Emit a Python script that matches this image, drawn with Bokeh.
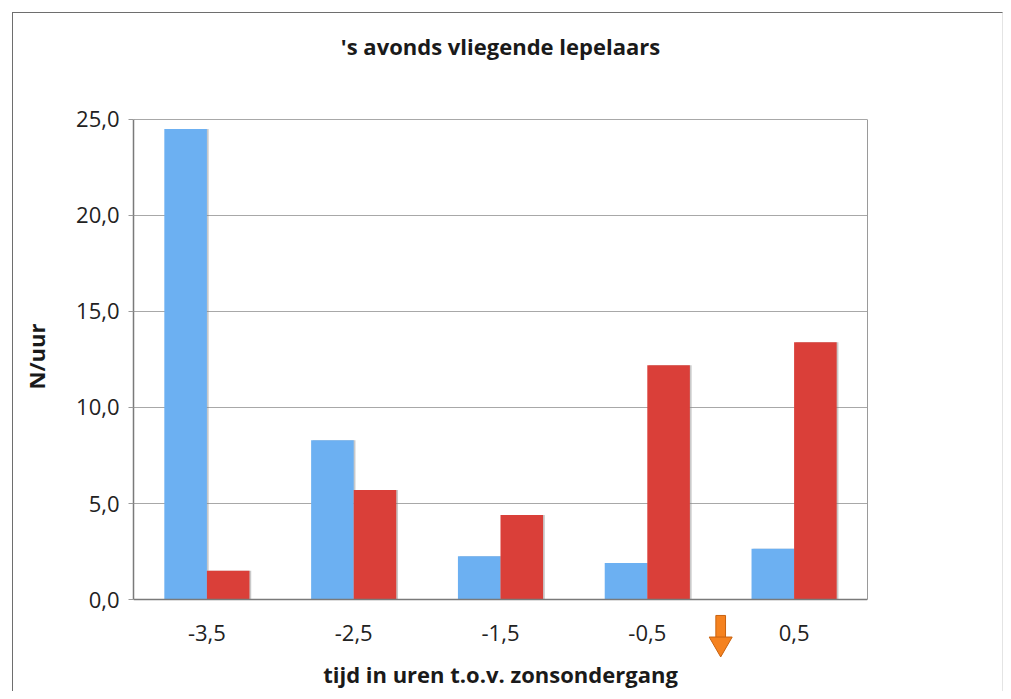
from bokeh.plotting import figure
from bokeh.models import (FactorRange, Range1d, CustomJSTickFormatter, FixedTicker,
                          LinearAxis, Span, ColumnDataSource)
from bokeh.transform import dodge
from bokeh.core.properties import value
from bokeh.embed import file_html
from bokeh.resources import INLINE

categories = ["-3,5", "-2,5", "-1,5", "-0,5", "0,5"]
blue_values = [24.5, 8.3, 2.25, 1.9, 2.65]
red_values = [1.5, 5.7, 4.4, 12.2, 13.4]
y_ticks = [0, 5, 10, 15, 20, 25]
title_text = "'s avonds vliegende lepelaars"
x_title = "tijd in uren t.o.v. zonsondergang"
y_title = "N/uur"

BLUE = "#6cb0f2"
RED = "#da3f39"
ORANGE = "#f5821f"
AXIS = "#7a7a7a"
FONT = "Open Sans"

src = ColumnDataSource(dict(cat=categories, blue=blue_values, red=red_values))

# the data frame spans 0..25; the range is extended so that title, x labels
# and the sunset arrow (all drawn as glyphs) fit inside the drawing area
p = figure(x_range=FactorRange(*categories, range_padding=0),
           y_range=Range1d(-4.79, 30.10),
           width=991, height=679, output_backend="svg", toolbar_location=None,
           min_border_left=120, min_border_right=137, min_border_top=8,
           min_border_bottom=1)
p.title.visible = False
p.margin = (12, 0, 0, 12)
p.styles = {"border-top": "1px solid #6e6e6e", "border-left": "1px solid #6e6e6e",
            "border-right": "1px solid #e4e4e4"}
p.background_fill_color = "white"
p.border_fill_color = "white"
p.outline_line_color = None

w = 0.29
# subtle shadows
p.vbar(x=dodge("cat", -0.145 + 0.012, range=p.x_range), top="blue", width=w, bottom=0,
       source=src, fill_color="#888888", fill_alpha=0.45, line_color=None)
p.vbar(x=dodge("cat", 0.145 + 0.012, range=p.x_range), top="red", width=w, bottom=0,
       source=src, fill_color="#888888", fill_alpha=0.45, line_color=None)
p.vbar(x=dodge("cat", -0.145, range=p.x_range), top="blue", width=w, bottom=0,
       source=src, fill_color=BLUE, line_color=None)
p.vbar(x=dodge("cat", 0.145, range=p.x_range), top="red", width=w, bottom=0,
       source=src, fill_color=RED, line_color=None)

# grid / frame
p.xgrid.grid_line_color = None
p.ygrid.grid_line_color = "#a8a8a8"
p.ygrid.grid_line_width = 1
p.add_layout(Span(location=0, dimension="width", line_color=AXIS, line_width=1.5))

p.xaxis.visible = False

yax = p.yaxis[0]
yax.ticker = FixedTicker(ticks=y_ticks)
yax.bounds = (y_ticks[0], y_ticks[-1])
yax.formatter = CustomJSTickFormatter(code="return tick.toFixed(1).replace('.', ',');")
yax.axis_line_color = AXIS
yax.axis_line_width = 1.5
yax.major_tick_line_color = "#9a9a9a"
yax.major_tick_out = 5
yax.major_tick_in = 0
yax.minor_tick_line_color = None
yax.major_label_standoff = 9
yax.major_label_text_font = FONT
yax.major_label_text_font_size = "22px"
yax.major_label_text_color = "#222222"
yax.axis_label = y_title
yax.axis_label_standoff = 22
yax.axis_label_text_font = FONT
yax.axis_label_text_font_size = "22px"
yax.axis_label_text_font_style = "bold"
yax.axis_label_text_color = "#1a1a1a"

right = LinearAxis(ticker=FixedTicker(ticks=[]), bounds=(y_ticks[0], y_ticks[-1]),
                   axis_line_color="#9a9a9a", major_tick_line_color=None,
                   minor_tick_line_color=None, major_label_text_font_size="0px")
p.add_layout(right, "right")

# category labels under the axis
p.text(x=categories, y=[-1.75] * len(categories), text=categories,
       text_align="center", text_baseline="middle", text_font=value(FONT),
       text_font_size="22px", text_color="#222222")

# axis title and chart title
mid = len(categories) / 2
p.text(x=[mid], y=[-3.87], text=[x_title], text_align="center", text_baseline="middle",
       text_font=value(FONT), text_font_size="22px", text_font_style="bold",
       text_color="#1a1a1a")
p.text(x=[mid], y=[28.8], text=[title_text], text_align="center", text_baseline="middle",
       text_font=value(FONT), text_font_size="22px", text_font_style="bold",
       text_color="#1a1a1a")

# orange sunset arrow between the -0,5 and 0,5 groups
p.vbar(x=[4.0], bottom=[-2.0], top=[-0.83], width=0.066, fill_color=ORANGE,
       line_color="#c8620f", line_width=1)
p.scatter(x=[4.0], y=[-2.3], marker="inverted_triangle", size=23, fill_color=ORANGE,
          line_color="#c8620f", line_width=1)

open("out.html", "w").write(file_html(p, INLINE))
